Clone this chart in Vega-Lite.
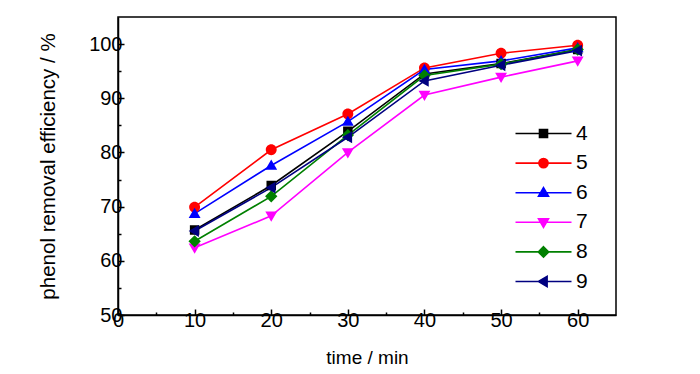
{
  "$schema": "https://vega.github.io/schema/vega-lite/v6.json",
  "width": 498,
  "height": 298,
  "autosize": {"type": "none"},
  "padding": {"left": 118, "top": 17, "right": 84, "bottom": 59},
  "background": "white",
  "config": {
    "font": "Liberation Sans",
    "view": {"stroke": "black", "strokeWidth": 1.5},
    "axis": {
      "grid": false,
      "domainColor": "black",
      "domainWidth": 1.5,
      "tickColor": "black",
      "tickWidth": 1.5,
      "labelColor": "black",
      "titleColor": "black",
      "labelFont": "Liberation Sans",
      "titleFont": "Liberation Sans",
      "labelFontSize": 20,
      "titleFontSize": 19,
      "titleFontWeight": "normal"
    }
  },
  "data": {
    "values": [
      {"series": "4", "time": 10, "eff": 65.7},
      {"series": "4", "time": 20, "eff": 73.9},
      {"series": "4", "time": 30, "eff": 83.9},
      {"series": "4", "time": 40, "eff": 94.5},
      {"series": "4", "time": 50, "eff": 96.4},
      {"series": "4", "time": 60, "eff": 99.0},
      {"series": "5", "time": 10, "eff": 69.9},
      {"series": "5", "time": 20, "eff": 80.5},
      {"series": "5", "time": 30, "eff": 87.1},
      {"series": "5", "time": 40, "eff": 95.6},
      {"series": "5", "time": 50, "eff": 98.3},
      {"series": "5", "time": 60, "eff": 99.8},
      {"series": "6", "time": 10, "eff": 68.7},
      {"series": "6", "time": 20, "eff": 77.6},
      {"series": "6", "time": 30, "eff": 85.7},
      {"series": "6", "time": 40, "eff": 95.3},
      {"series": "6", "time": 50, "eff": 96.9},
      {"series": "6", "time": 60, "eff": 99.3},
      {"series": "7", "time": 10, "eff": 62.4},
      {"series": "7", "time": 20, "eff": 68.3},
      {"series": "7", "time": 30, "eff": 80.0},
      {"series": "7", "time": 40, "eff": 90.6},
      {"series": "7", "time": 50, "eff": 93.9},
      {"series": "7", "time": 60, "eff": 96.9},
      {"series": "8", "time": 10, "eff": 63.6},
      {"series": "8", "time": 20, "eff": 71.9},
      {"series": "8", "time": 30, "eff": 83.2},
      {"series": "8", "time": 40, "eff": 94.2},
      {"series": "8", "time": 50, "eff": 96.3},
      {"series": "8", "time": 60, "eff": 99.0},
      {"series": "9", "time": 10, "eff": 65.5},
      {"series": "9", "time": 20, "eff": 73.5},
      {"series": "9", "time": 30, "eff": 82.8},
      {"series": "9", "time": 40, "eff": 93.2},
      {"series": "9", "time": 50, "eff": 96.1},
      {"series": "9", "time": 60, "eff": 98.8}
    ]
  },
  "encoding": {
    "x": {
      "field": "time",
      "type": "quantitative",
      "scale": {"domain": [0, 65], "nice": false},
      "axis": {
        "title": "time / min",
        "values": [0, 5, 10, 15, 20, 25, 30, 35, 40, 45, 50, 55, 60],
        "labelExpr": "datum.value % 10 == 0 ? datum.label : ''",
        "tickSize": {"condition": {"test": "datum.value % 10 == 0", "value": -6}, "value": -3},
        "labelPadding": 1,
        "titlePadding": 18,
        "labelFlush": false
      }
    },
    "y": {
      "field": "eff",
      "type": "quantitative",
      "scale": {"domain": [50, 105], "nice": false, "zero": false},
      "axis": {
        "title": "phenol removal efficiency / %",
        "titleFontSize": 20.5,
        "values": [50, 55, 60, 65, 70, 75, 80, 85, 90, 95, 100],
        "labelExpr": "datum.value % 10 == 0 ? datum.label : ''",
        "tickSize": {"condition": {"test": "datum.value % 10 == 0", "value": -6}, "value": -3},
        "labelPadding": 2,
        "titlePadding": 30,
        "labelFlush": false
      }
    },
    "color": {
      "field": "series",
      "type": "nominal",
      "scale": {
        "domain": ["4", "5", "6", "7", "8", "9"],
        "range": ["#000000", "#FF0000", "#0000FF", "#FF00FF", "#008000", "#000080"]
      },
      "legend": {
        "title": null,
        "orient": "none",
        "legendX": 415,
        "legendY": 106,
        "labelFontSize": 21,
        "labelFont": "Liberation Sans",
        "labelColor": "black",
        "labelOffset": 22,
        "rowPadding": 7.6,
        "symbolSize": 64,
        "symbolOpacity": 1,
        "symbolStrokeWidth": 1.6,
        "symbolStrokeColor": {"expr": "scale('color', datum.value)"}
      }
    }
  },
  "layer": [
    {
      "mark": {"type": "line", "strokeWidth": 1.6},
      "encoding": {"detail": {"field": "series", "type": "nominal"}}
    },
    {
      "mark": {"type": "point", "filled": true, "opacity": 1, "size": 90},
      "encoding": {
        "shape": {
          "field": "series",
          "type": "nominal",
          "scale": {
            "domain": ["4", "5", "6", "7", "8", "9"],
            "range": [
              "M-7,0H7M-1,-1H1V1H-1Z",
              "M-7,0H7M1.15,0A1.15,1.15,0,1,1,-1.15,0A1.15,1.15,0,1,1,1.15,0Z",
              "M-7,0H7M0,-1.25L1.25,0.9L-1.25,0.9Z",
              "M-7,0H7M0,1.25L1.25,-0.9L-1.25,-0.9Z",
              "M-7,0H7M0,-1.3L1.3,0L0,1.3L-1.3,0Z",
              "M-7,0H7M-1.25,0L0.9,-1.25L0.9,1.25Z"
            ]
          }
        }
      }
    }
  ]
}
